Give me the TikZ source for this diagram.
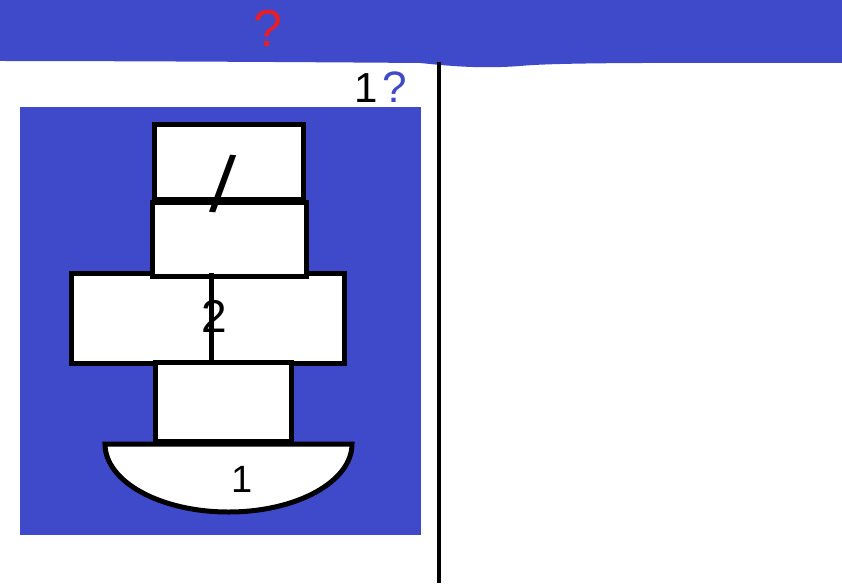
\documentclass[tikz,border=0pt]{standalone}
\usepackage{fontspec}
\setmainfont{Liberation Sans}
\definecolor{sketchblue}{RGB}{63,74,203}
\definecolor{sketchred}{RGB}{230,30,40}
\begin{document}
\begin{tikzpicture}[x=1pt,y=-1pt,
  blk/.style={draw=black,fill=white,line width=5.5pt,inner sep=0pt,outer sep=0pt},
  lbl/.style={inner sep=0pt,outer sep=0pt,font=\fontsize{40}{40}\selectfont}]
\useasboundingbox (0,0) rectangle (842,583);
\fill[white] (0,0) rectangle (842,583);
% top band
\fill[sketchblue] (0,0) -- (842,0) -- (842,63) .. controls (700,63) and (560,62) .. (520,66)
  .. controls (480,69) and (450,66) .. (420,63) .. controls (300,62) and (100,61) .. (0,61) -- cycle;
\node[lbl,text=sketchred,font=\fontsize{52}{52}\selectfont] (q1) at (268,28) {?};
% divider
\coordinate (vt) at (438.5,62);
\coordinate (vb) at (438.5,583);
\draw[line width=4pt] (vt) -- (vb);
\node[lbl,font=\fontsize{42}{42}\selectfont] (one) at (366,88) {1};
\node[lbl,text=sketchblue,font=\fontsize{44}{44}\selectfont] (q2) at (395,87) {?};
% panel
\fill[sketchblue] (20,107) rectangle (421,535);
% boxes
\node[blk,minimum width=149pt,minimum height=75pt] (b1) at (229,162) {};
\node[blk,minimum width=273pt,minimum height=90pt] (b3) at (208,318.5) {};
\node[blk,minimum width=154pt,minimum height=74pt] (b2) at (229.5,239.5) {};
\node[blk,minimum width=136pt,minimum height=79pt] (b4) at (223.5,402) {};
\coordinate (dt) at (211,273);
\draw[line width=5pt] (dt) -- (b4.north -| dt);
% bowl
\coordinate (bl) at (105,444);
\coordinate (br) at (352,444);
\draw[blk,line width=5pt] (br) arc[start angle=0,end angle=180,x radius=123.5,y radius=68] -- cycle;
\node[lbl,font=\fontsize{38}{38}\selectfont] (bowl) at (242,479) {1};
% labels
\node[lbl,font=\fontsize{80}{80}\selectfont,rotate=-5] (l1) at (223,184) {/};
\node[lbl,font=\fontsize{46}{46}\selectfont] (l2) at (214,316) {2};
\end{tikzpicture}
\end{document}
